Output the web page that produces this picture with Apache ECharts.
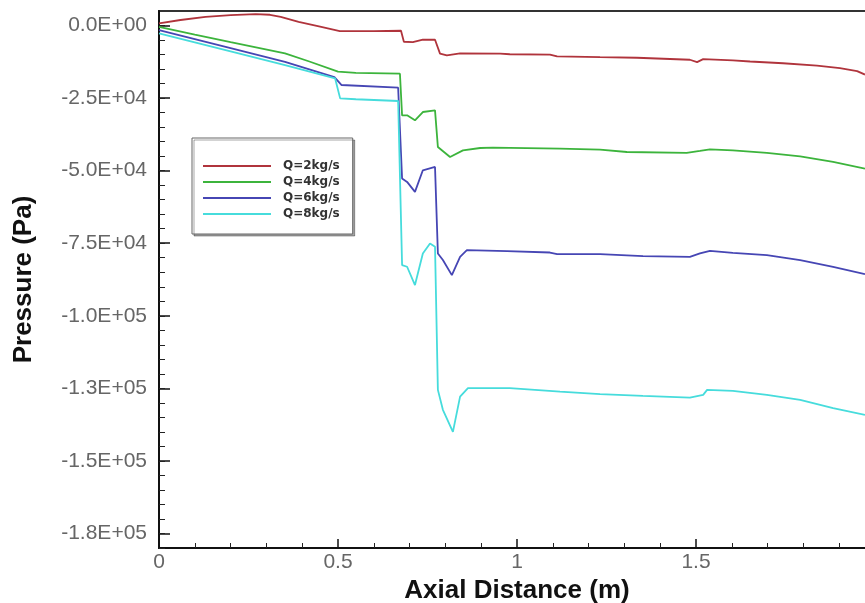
<!DOCTYPE html>
<html>
<head>
<meta charset="utf-8">
<script src="https://cdn.jsdelivr.net/npm/echarts@6/dist/echarts.min.js"></script>
<style>
html,body{margin:0;padding:0;background:#fff;}
#chart{width:865px;height:603px;}
</style>
</head>
<body>
<div id="chart"></div>
<script>
const seriesNames = ['Q=2kg/s', 'Q=4kg/s', 'Q=6kg/s', 'Q=8kg/s'];

const xRed = [0, 0.06, 0.13, 0.2, 0.27, 0.31, 0.34, 0.39, 0.45, 0.505, 0.6, 0.676, 0.684, 0.709, 0.737, 0.771, 0.785, 0.804, 0.841, 0.953, 0.98, 1.092, 1.112, 1.232, 1.335, 1.483, 1.503, 1.52, 1.603, 1.651, 1.743, 1.838, 1.902, 1.95, 1.972];
const pRed = [700, 1900, 3000, 3600, 3900, 3700, 3000, 1270, -400, -1950, -1900, -1800, -5600, -5700, -4900, -4900, -9700, -10300, -9600, -9700, -9900, -10000, -10600, -10900, -11100, -11800, -12600, -11600, -12000, -12400, -13000, -13800, -14700, -15700, -16900];

const xGreen = [0, 0.1, 0.2, 0.352, 0.42, 0.5, 0.55, 0.673, 0.679, 0.693, 0.715, 0.737, 0.771, 0.779, 0.813, 0.849, 0.897, 0.933, 1.12, 1.232, 1.307, 1.474, 1.511, 1.539, 1.603, 1.698, 1.791, 1.883, 1.972];
const pGreen = [-450, -3100, -5700, -9630, -12400, -15900, -16300, -16600, -30950, -30950, -32670, -29800, -29230, -41850, -45290, -43000, -42200, -42060, -42400, -42750, -43570, -43910, -43220, -42640, -42990, -43910, -45050, -47010, -49280];

const xBlue = [0, 0.1, 0.2, 0.352, 0.49, 0.51, 0.668, 0.679, 0.693, 0.715, 0.737, 0.771, 0.779, 0.793, 0.818, 0.841, 0.86, 0.972, 1.092, 1.112, 1.232, 1.352, 1.483, 1.511, 1.539, 1.603, 1.698, 1.791, 1.883, 1.972];
const pBlue = [-1600, -4700, -7800, -12490, -17800, -20500, -21430, -52730, -53880, -57330, -49870, -48730, -78520, -80800, -85980, -79670, -77380, -77720, -78200, -78750, -78750, -79440, -79680, -78520, -77620, -78310, -79100, -80820, -83120, -85630];

const xCyan = [0, 0.1, 0.2, 0.352, 0.492, 0.506, 0.55, 0.668, 0.679, 0.693, 0.715, 0.737, 0.757, 0.771, 0.779, 0.793, 0.821, 0.841, 0.863, 0.98, 1.12, 1.232, 1.352, 1.483, 1.52, 1.531, 1.603, 1.698, 1.791, 1.883, 1.972];
const pCyan = [-2750, -5850, -8950, -13650, -18230, -25100, -25400, -26000, -82540, -83110, -89410, -78520, -75080, -76240, -125520, -132400, -139970, -127830, -124940, -124940, -126100, -127000, -127580, -128170, -127240, -125520, -125860, -127240, -128960, -131820, -134120];

const yTickValues = [0, -25000, -50000, -75000, -100000, -125000, -150000, -175000];
const yTickLabels = ['0.0E+00', '-2.5E+04', '-5.0E+04', '-7.5E+04', '-1.0E+05', '-1.3E+05', '-1.5E+05', '-1.8E+05'];
const xTickLabels = ['0', '0.5', '1', '1.5', '2'];

const colors = ['#b0343c', '#3cb43c', '#4646b4', '#46dcdc'];

const yMinor = [];
for (let v = 0; v >= -180000; v -= 5000) yMinor.push(v);

function zip(xs, ys) { return xs.map((x, i) => [x, ys[i]]); }
const allData = [zip(xRed, pRed), zip(xGreen, pGreen), zip(xBlue, pBlue), zip(xCyan, pCyan)];

const FONT = '"Liberation Sans", Arial, sans-serif';
const chart = echarts.init(document.getElementById('chart'), null, {renderer: 'canvas'});
chart.setOption({
  animation: false,
  backgroundColor: '#fff',
  color: colors,
  grid: {left: 159, top: 11, width: 716, height: 537, outerBoundsMode: 'none', containLabel: false,
    show: true, borderColor: '#333', borderWidth: 2, backgroundColor: 'transparent'},
  legend: {
    orient: 'vertical', left: 192, top: 138,
    padding: [22, 13, 14, 10], itemGap: 4, itemWidth: 68, itemHeight: 14,
    borderColor: '#666', borderWidth: 1, backgroundColor: '#fff',
    shadowColor: 'rgba(0,0,0,0.35)', shadowOffsetX: 2, shadowOffsetY: 2, shadowBlur: 0,
    itemStyle: {color: 'transparent', borderColor: 'transparent', borderWidth: 0, opacity: 0},
    textStyle: {fontFamily: '"DejaVu Sans", sans-serif', fontWeight: 'bold', fontSize: 12, color: '#333', padding: [0, 0, 0, 7]},
    data: seriesNames
  },
  xAxis: {
    type: 'value', min: 0, max: 2, interval: 0.5,
    axisLine: {show: true, onZero: false, lineStyle: {color: '#111', width: 2}},
    axisTick: {show: true, inside: true, length: 9, lineStyle: {color: '#111', width: 1.5}},
    minorTick: {show: true, splitNumber: 5, length: 5, lineStyle: {color: '#222', width: 1}},
    splitLine: {show: false},
    axisLabel: {margin: 4, fontSize: 21, color: '#666', fontFamily: FONT,
      formatter: v => xTickLabels[Math.round(v / 0.5)]},
    name: 'Axial Distance (m)', nameLocation: 'middle', nameGap: 27,
    nameTextStyle: {fontFamily: FONT, fontWeight: 'bold', fontSize: 26, color: '#111'}
  },
  yAxis: [{
    type: 'value', min: -180000, max: 5000, position: 'left',
    axisLine: {show: true, onZero: false, lineStyle: {color: '#111', width: 2}},
    axisTick: {show: true, inside: true, length: 11, customValues: yTickValues, lineStyle: {color: '#111', width: 1.5}},
    splitLine: {show: false},
    axisLabel: {margin: 12, fontSize: 21, color: '#666', fontFamily: FONT, customValues: yTickValues,
      formatter: v => { const i = yTickValues.indexOf(Math.round(v)); return i >= 0 ? yTickLabels[i] : ''; }},
    name: 'Pressure (Pa)', nameLocation: 'middle', nameGap: 122, nameRotate: 90,
    nameTextStyle: {fontFamily: FONT, fontWeight: 'bold', fontSize: 26, color: '#111'}
  }, {
    type: 'value', min: -180000, max: 5000, position: 'left',
    axisLine: {show: false, onZero: false},
    axisTick: {show: true, inside: true, length: 6, customValues: yMinor, lineStyle: {color: '#222', width: 1}},
    axisLabel: {show: false},
    splitLine: {show: false}
  }],
  series: seriesNames.map((n, i) => ({
    name: n, type: 'line', data: allData[i], symbol: 'none', showSymbol: false,
    lineStyle: {width: 1.8, color: colors[i]}, itemStyle: {color: colors[i]},
    smooth: false, z: 2 + i
  }))
});
</script>
</body>
</html>
